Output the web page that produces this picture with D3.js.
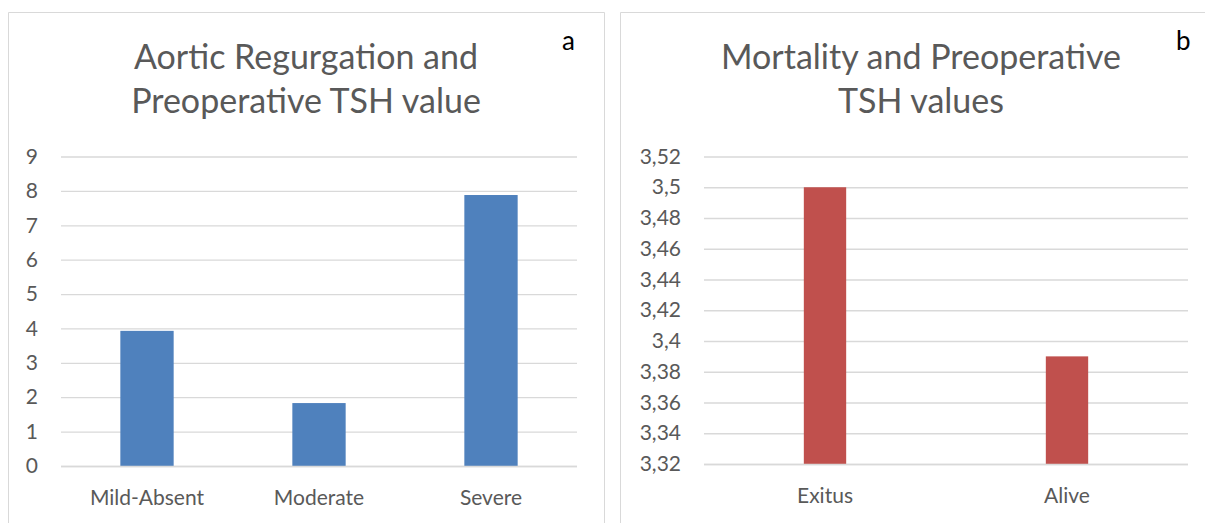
<!DOCTYPE html>
<meta charset="UTF-8">
<head>
    <title>TSH charts</title>
</head>
<style>
    body {
        margin: 0;
        background: #fff;
    }

    svg text {
        font-family: Lato, "Open Sans", sans-serif;
    }
</style>
<body>
    <svg id="chart" width="1205" height="523"></svg>

    <script src="https://cdn.jsdelivr.net/npm/d3@7"></script>
    <script>
        // 图 a 数据
        var catsA = ["Mild-Absent", "Moderate", "Severe"];
        var valsA = [3.93, 1.83, 7.88];
        var ticksA = [0, 1, 2, 3, 4, 5, 6, 7, 8, 9];
        var tickLabelsA = ["0", "1", "2", "3", "4", "5", "6", "7", "8", "9"];
        var titleA = ["Aortic Regurgation and", "Preoperative TSH value"];

        // 图 b 数据
        var catsB = ["Exitus", "Alive"];
        var valsB = [3.5, 3.39];
        var ticksB = [3.32, 3.34, 3.36, 3.38, 3.4, 3.42, 3.44, 3.46, 3.48, 3.5, 3.52];
        var tickLabelsB = ["3,32", "3,34", "3,36", "3,38", "3,4", "3,42", "3,44", "3,46", "3,48", "3,5", "3,52"];
        var titleB = ["Mortality and Preoperative", "TSH values"];

        var textColor = "#595959";
        var gridColor = "#d9d9d9";

        var svg = d3.select("#chart");

        // panel borders
        svg.append("path")
            .attr("d", "M8.5,523 V12.5 H604.5 V523")
            .attr("fill", "none").attr("stroke", gridColor);
        svg.append("path")
            .attr("d", "M620.5,523 V12.5 H1210")
            .attr("fill", "none").attr("stroke", gridColor);

        function drawPanel(opt) {
            var x = d3.scaleBand()
                .domain(opt.cats)
                .range([opt.x0, opt.x1])
                .paddingInner(opt.pad)
                .paddingOuter(opt.pad / 2);
            var y = d3.scaleLinear()
                .domain([opt.ticks[0], opt.ticks[opt.ticks.length - 1]])
                .range([opt.y0, opt.y1]);

            // gridlines + y labels
            var yAxis = d3.axisLeft(y)
                .tickValues(opt.ticks)
                .tickSize(-(opt.x1 - opt.x0))
                .tickPadding(opt.labelGap)
                .tickFormat(function (d, i) { return opt.tickLabels[i]; });
            var g = svg.append("g")
                .attr("transform", "translate(" + opt.x0 + ",0)")
                .call(yAxis);
            g.select(".domain").remove();
            g.selectAll("line").attr("stroke", gridColor).attr("stroke-width", 1.3);
            g.selectAll("text")
                .attr("fill", textColor)
                .style("font-size", "21px");

            // bars
            svg.append("g").selectAll("rect")
                .data(opt.vals)
                .enter()
                .append("rect")
                .attr("x", function (d, i) { return x(opt.cats[i]); })
                .attr("width", x.bandwidth())
                .attr("y", function (d) { return y(d); })
                .attr("height", function (d) { return opt.y0 - y(d); })
                .attr("fill", opt.color);

            // baseline
            svg.append("line")
                .attr("x1", opt.x0).attr("x2", opt.x1)
                .attr("y1", opt.y0 + 0.5).attr("y2", opt.y0 + 0.5)
                .attr("stroke", gridColor).attr("stroke-width", 1.3);

            // category labels
            svg.append("g").selectAll("text")
                .data(opt.cats)
                .enter()
                .append("text")
                .attr("x", function (d) { return x(d) + x.bandwidth() / 2; })
                .attr("y", opt.catY)
                .attr("text-anchor", "middle")
                .attr("fill", textColor)
                .style("font-size", "21px")
                .text(function (d) { return d; });

            // title
            svg.append("g").selectAll("text")
                .data(opt.title)
                .enter()
                .append("text")
                .attr("x", opt.titleX)
                .attr("y", function (d, i) { return 69 + i * 44; })
                .attr("text-anchor", "middle")
                .attr("fill", textColor)
                .style("font-size", "34px")
                .text(function (d) { return d; });

            // panel letter
            svg.append("text")
                .attr("x", opt.letterX)
                .attr("y", 50)
                .attr("fill", "#000")
                .style("font-size", "26px")
                .text(opt.letter);
        }

        drawPanel({
            cats: catsA, vals: valsA, ticks: ticksA, tickLabels: tickLabelsA, title: titleA,
            x0: 61, x1: 577, y0: 466, y1: 156.5, pad: 0.69, labelGap: 23,
            color: "#4f81bd", catY: 505, titleX: 306, letter: "a", letterX: 562
        });

        drawPanel({
            cats: catsB, vals: valsB, ticks: ticksB, tickLabels: tickLabelsB, title: titleB,
            x0: 704, x1: 1188, y0: 464, y1: 156.5, pad: 0.825, labelGap: 23,
            color: "#c0504d", catY: 503, titleX: 921, letter: "b", letterX: 1176
        });
    </script>
</body>
</html>
